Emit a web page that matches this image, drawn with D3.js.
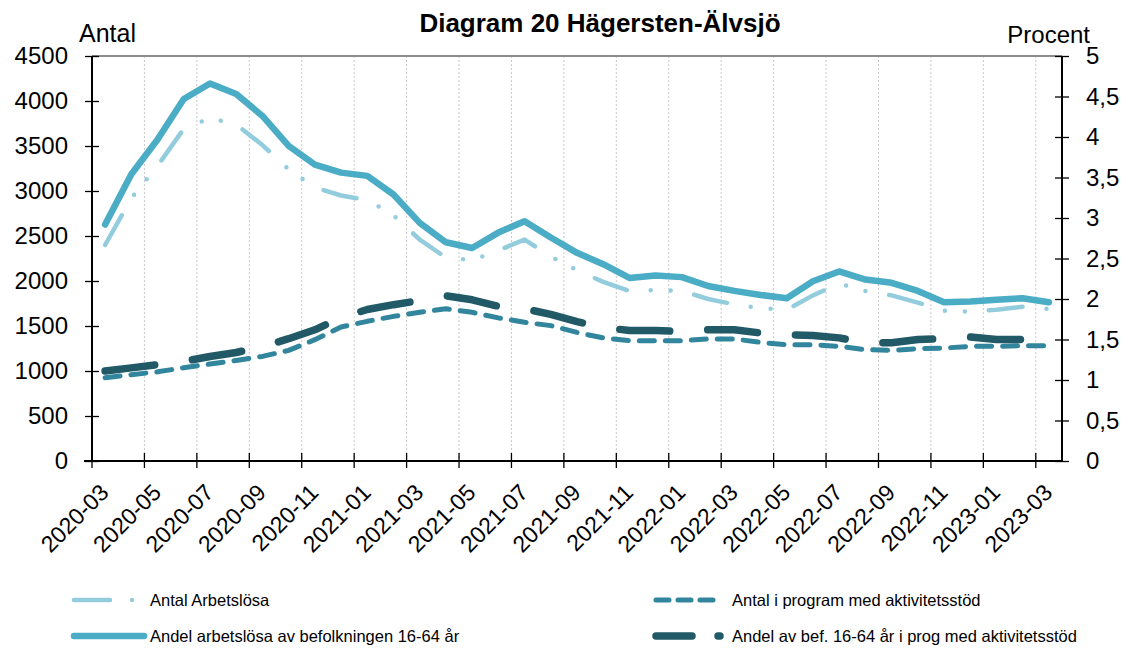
<!DOCTYPE html>
<html>
<head>
<meta charset="utf-8">
<script src="https://cdn.jsdelivr.net/npm/d3@7"></script>
<style>
  body { margin: 0; background: #fff; }
  text { font-family: "Liberation Sans", Arial, sans-serif; fill: #000; }
</style>
</head>
<body>
<div id="chart"></div>
<script>
// Diagram 20 Hägersten-Älvsjö

const months = [
  '2020-03','2020-04','2020-05','2020-06','2020-07','2020-08','2020-09','2020-10','2020-11','2020-12',
  '2021-01','2021-02','2021-03','2021-04','2021-05','2021-06','2021-07','2021-08','2021-09','2021-10',
  '2021-11','2021-12','2022-01','2022-02','2022-03','2022-04','2022-05','2022-06','2022-07','2022-08',
  '2022-09','2022-10','2022-11','2022-12','2023-01','2023-02','2023-03'
];

// left axis (Antal)
const antalArbetslosa = [
  2400, 2920, 3280, 3690, 3810, 3740, 3510, 3240, 3040, 2950,
  2900, 2730, 2460, 2260, 2230, 2340, 2460, 2270, 2120, 1990,
  1890, 1900, 1890, 1800, 1740, 1700, 1680, 1840, 1970, 1890,
  1840, 1760, 1670, 1660, 1680, 1715, 1690
];
const antalProgram = [
  925, 958, 991, 1036, 1077, 1117, 1162, 1229, 1348, 1489,
  1552, 1607, 1652, 1692, 1652, 1590, 1541, 1504, 1429, 1367,
  1337, 1337, 1337, 1356, 1356, 1318, 1292, 1292, 1274, 1237,
  1229, 1248, 1255, 1274, 1274, 1281, 1281
];

// right axis (Procent)
const andelArbetslosa = [
  2.92, 3.54, 3.97, 4.47, 4.66, 4.53, 4.26, 3.89, 3.66, 3.56,
  3.52, 3.29, 2.94, 2.70, 2.63, 2.82, 2.96, 2.76, 2.57, 2.43,
  2.26, 2.29, 2.27, 2.16, 2.10, 2.05, 2.01, 2.22, 2.34, 2.24,
  2.20, 2.10, 1.96, 1.97, 1.99, 2.01, 1.96
];
const andelProgram = [
  1.11, 1.15, 1.19, 1.23, 1.29, 1.34, 1.41, 1.51, 1.62, 1.77,
  1.87, 1.93, 1.98, 2.04, 1.99, 1.91, 1.88, 1.81, 1.72, 1.65,
  1.61, 1.61, 1.60, 1.62, 1.62, 1.58, 1.56, 1.55, 1.52, 1.46,
  1.46, 1.50, 1.51, 1.53, 1.50, 1.50, 1.50
];

const leftTicks = [0, 500, 1000, 1500, 2000, 2500, 3000, 3500, 4000, 4500];
const rightTicks = [0, 0.5, 1, 1.5, 2, 2.5, 3, 3.5, 4, 4.5, 5];

const width = 1128, height = 649;
const plot = { left: 92, right: 1062, top: 56, bottom: 461 };

const svg = d3.select('#chart').append('svg')
  .attr('width', width)
  .attr('height', height);

const x = d3.scaleBand().domain(months).range([plot.left, plot.right]).padding(0);
const cx = d => x(d) + x.bandwidth() / 2;
const yL = d3.scaleLinear().domain([0, 4500]).range([plot.bottom, plot.top]);
const yR = d3.scaleLinear().domain([0, 5]).range([plot.bottom, plot.top]);

// tick / grid positions: every second category boundary
const tickMonths = months.filter((m, i) => i % 2 === 0);

// vertical grid lines
svg.append('g').selectAll('line')
  .data(tickMonths.slice(1))
  .enter().append('line')
    .attr('x1', d => x(d)).attr('x2', d => x(d))
    .attr('y1', plot.top).attr('y2', plot.bottom)
    .attr('stroke', '#c8c8c8')
    .attr('stroke-width', 1)
    .attr('stroke-dasharray', '2,2');

// top border
svg.append('line')
  .attr('x1', plot.left).attr('x2', plot.right)
  .attr('y1', plot.top).attr('y2', plot.top)
  .attr('stroke', '#8c8c8c').attr('stroke-width', 2);

// left axis
const leftAxis = svg.append('g')
  .attr('transform', `translate(${plot.left},0)`)
  .call(d3.axisLeft(yL).tickValues(leftTicks).tickSize(7).tickPadding(17).tickFormat(d3.format('d')));
leftAxis.selectAll('.tick line').attr('x2', -7).attr('x1', 7);

// right axis
const rightAxis = svg.append('g')
  .attr('transform', `translate(${plot.right},0)`)
  .call(d3.axisRight(yR).tickValues(rightTicks).tickSize(7).tickPadding(17)
    .tickFormat(d => String(d).replace('.', ',')));
rightAxis.selectAll('.tick line').attr('x1', -7).attr('x2', 7);

[leftAxis, rightAxis].forEach(a => {
  a.select('.domain').attr('stroke', '#000').attr('stroke-width', 2);
  a.selectAll('.tick line').attr('stroke', '#000').attr('stroke-width', 1.3);
  a.selectAll('.tick text').style('font-size', '24px').attr('fill', '#000');
});
leftAxis.select('.domain').attr('d', `M0,${plot.top}V${plot.bottom}`);
rightAxis.select('.domain').attr('d', `M0,${plot.top}V${plot.bottom}`);

// bottom axis
const bottom = svg.append('g');
bottom.append('line')
  .attr('x1', plot.left - 8).attr('x2', plot.right)
  .attr('y1', plot.bottom).attr('y2', plot.bottom)
  .attr('stroke', '#000').attr('stroke-width', 2);
bottom.selectAll('.xtick')
  .data(tickMonths)
  .enter().append('line')
    .attr('class', 'xtick')
    .attr('x1', d => x(d)).attr('x2', d => x(d))
    .attr('y1', plot.bottom - 8).attr('y2', plot.bottom + 7)
    .attr('stroke', '#000').attr('stroke-width', 1.3);
bottom.selectAll('.xlabel')
  .data(tickMonths)
  .enter().append('text')
    .attr('class', 'xlabel')
    .attr('text-anchor', 'end')
    .attr('transform', d => `translate(${cx(d) + 5},${plot.bottom + 33}) rotate(-45)`)
    .style('font-size', '23px')
    .text(d => d);

// series
const series = [
  { values: antalArbetslosa, y: yL, color: '#93cddd', width: 4.5, dash: '34,24,0,20,0,24' },
  { values: antalProgram, y: yL, color: '#31859c', width: 5, dash: '15,11' },
  { values: andelArbetslosa, y: yR, color: '#4bacc6', width: 6.5, dash: null },
  { values: andelProgram, y: yR, color: '#215967', width: 7.5, dash: '50,38' }
];

series.forEach(s => {
  const line = d3.line()
    .x((d, i) => cx(months[i]))
    .y(d => s.y(d));
  svg.append('path')
    .datum(s.values)
    .attr('d', line)
    .attr('fill', 'none')
    .attr('stroke', s.color)
    .attr('stroke-width', s.width)
    .attr('stroke-linecap', 'round')
    .attr('stroke-linejoin', 'round')
    .attr('stroke-dasharray', s.dash);
});

// titles
svg.append('text')
  .attr('x', 600).attr('y', 32)
  .attr('text-anchor', 'middle')
  .style('font-size', '26px').style('font-weight', 'bold')
  .text('Diagram 20 Hägersten-Älvsjö');
svg.append('text')
  .attr('x', 79).attr('y', 42)
  .style('font-size', '25px')
  .text('Antal');
svg.append('text')
  .attr('x', 1090).attr('y', 43)
  .attr('text-anchor', 'end')
  .style('font-size', '24px')
  .text('Procent');

// legend
const legend = [
  { label: 'Antal Arbetslösa', x: 74, y: 600, color: '#93cddd', width: 4.5, dash: '36,22,0,40', len: 62 },
  { label: 'Antal i program med aktivitetsstöd', x: 656, y: 600, color: '#31859c', width: 5, dash: '13,9', len: 66 },
  { label: 'Andel arbetslösa av befolkningen 16-64 år', x: 74, y: 636, color: '#4bacc6', width: 6.5, dash: null, len: 70 },
  { label: 'Andel av bef. 16-64 år i prog med aktivitetsstöd', x: 656, y: 636, color: '#215967', width: 7.5, dash: '36,26', len: 64 }
];

const lg = svg.append('g').selectAll('g')
  .data(legend)
  .enter().append('g');
lg.append('path')
  .attr('d', d => `M${d.x},${d.y}h${d.len}`)
  .attr('stroke', d => d.color)
  .attr('stroke-width', d => d.width)
  .attr('stroke-linecap', 'round')
  .attr('stroke-dasharray', d => d.dash);
lg.append('text')
  .attr('x', d => d.x + 76)
  .attr('y', d => d.y + 6)
  .style('font-size', '16.5px')
  .text(d => d.label);
</script>
</body>
</html>
